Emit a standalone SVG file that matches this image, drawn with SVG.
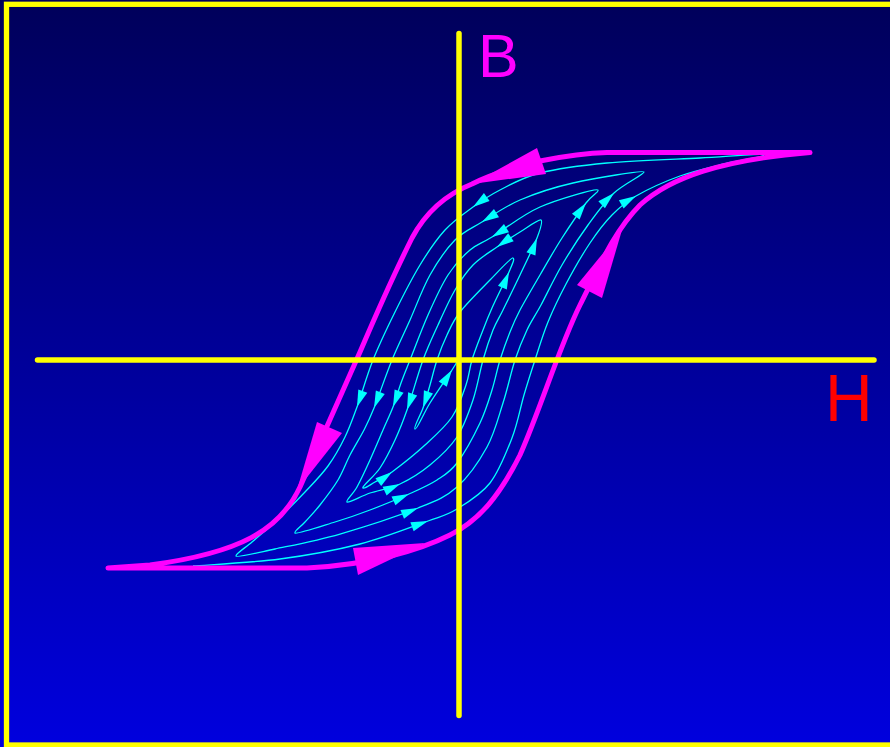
<svg xmlns="http://www.w3.org/2000/svg" xmlns:xlink="http://www.w3.org/1999/xlink" width="890" height="747" viewBox="0 0 890 747">
<defs>
<linearGradient id="bg" x1="0" y1="0" x2="0" y2="1">
<stop offset="0" stop-color="#00005a"/>
<stop offset="1" stop-color="#0000de"/>
</linearGradient>
<path id="ca" d="M0,0 L-17,-4.8 L-17,4.8 Z"/>
<style>
.axis{stroke:#ffff00;stroke-width:5.5;stroke-linecap:round;fill:none}
.major{stroke:#ff00ff;stroke-width:5;fill:none;stroke-linecap:round;stroke-linejoin:round}
.minor{stroke:#00ffff;stroke-width:1.3;fill:none}
.carrow{fill:#00ffff}
.marrow{fill:#ff00ff}
.lbl{font-family:"Liberation Sans",Arial,sans-serif}
</style>
</defs>
<rect x="0" y="0" width="890" height="747" fill="url(#bg)"/>
<rect id="frame" x="6.5" y="4.3" width="890" height="740.7" fill="none" stroke="#ffff00" stroke-width="5.3"/>

<g id="minor-loops">
<path class="minor" d="M193,566 C207.5,564.8 252.2,562.7 280,559 S335.3,550.3 360,544 S411.8,526.8 428,521 S446.7,515.3 457,509 S480.8,494.8 490,483 S506.3,452.7 512,438 S520.2,408 524,395 S531,372.2 535,360 S542.8,334.7 548,322 S559,297.2 566,284 S582.3,254.5 590,243 S604.3,222.8 612,215 S624.7,202.5 636,196 S664.7,181.5 680,176 S714,166.5 728,163 S764,157 764,155 S726.2,156.7 700,158 S633.7,160.5 607,163 S557.8,168.5 540,173 S511.2,184.3 500,190 S482.2,200.3 473,207 S453.8,220.3 445,230 S428.3,251.3 420,265 S402.8,296.2 395,312 S379.3,344.2 373,360 S361.7,394.2 357,407 S349.8,427.2 345,437 S334.7,456.8 328,466 S313.8,482.7 305,492 S283.8,513.7 275,522 S258.5,536.3 252,542 S235.2,554 236,556 S257.7,552.7 275,549 S316.2,540.8 340,534 S398.5,515.8 418,508 S445.5,497.2 457,487 S479.3,461 487,447 S498.3,417.5 503,403 S511,372.2 515,360 S522.7,339.2 527,330 S535.2,315.8 541,305 S554.2,278.3 562,265 S579.3,237 588,225 S604.7,201.8 614,193 S644.8,174 644,172 S593.7,178.3 573,183 S535.2,193.5 520,200 S492.8,215.3 482,222 S463.7,231.2 455,240 S437.5,261.7 430,275 S416.3,305.8 410,320 S398,345.3 392,360 S378.7,396.3 374,408 S368,422.2 364,430 S354.3,446.7 350,455 S343,471.7 338,480 S325.5,498 320,505 S309.2,517.3 305,522 S293.8,531.4 295,533 S322.5,525.8 335,522 S357.7,514.7 370,510 S397.8,499 409,494 S429,485.2 437,480 S449.8,472.5 457,463 S474.2,435.2 480,423 S488.7,400.5 492,390 S497,369.7 500,360 S506.7,340.3 510,332 S515,319.5 520,310 S533,287 540,275 S554.3,250 562,238 S580,211 586,203 S599.2,192 598,190 S557.7,199.2 540,207 S503.7,229.8 492,237 S477.3,243.7 470,250 S455,264.2 448,275 S434.3,300.8 428,315 S414.5,348.7 410,360 S403.8,375.2 401,383 S396,399.2 393,407 S386.8,421.2 383,430 S374.3,450.5 370,460 S360.8,480 357,487 S345.5,500.5 347,502 S361.2,496 370,493 S390,488.7 400,484 S420.5,472.8 430,465 S449.8,447.8 457,437 S468.7,412.8 473,400 S479.7,371.7 483,360 S489.7,338.3 493,330 S498.5,319.2 503,310 S514.3,287 520,275 S533.5,247.2 537,238 S543,221.2 541,220 S527.3,227.5 520,232 S504.8,241.5 497,247 S480,257.8 473,265 S460.8,280 455,290 S443.3,313.3 438,325 S428.2,345.8 423,360 S411.7,396.7 407,410 S399.5,430.3 395,440 S385.3,460 380,468 S361.4,486.8 363,488 S370.2,484.7 375,482 S383.7,478.2 392,472 S415,454.2 425,445 S445.2,427 452,417 S462.7,394.5 466,385 S469.2,369.2 472,360 S479.7,338.7 483,330 S487.7,317.7 492,308 S505.5,280.3 509,272 S515,258.6 513,258 S498.8,271 490,280 S467.2,302.8 460,312 S450.8,327 447,335 S439.8,351.7 437,360 S432.3,377 430,385 S425.5,400.7 423,408 S413,428 415,429 S423.8,412.8 430,403 S447.3,377.2 452,370 S457,361.7 458,360"/>
<g class="carrow">
<use xlink:href="#ca" transform="translate(428,521) rotate(-19.8)"/>
<use xlink:href="#ca" transform="translate(636,196) rotate(-29.8)"/>
<use xlink:href="#ca" transform="translate(473,207) rotate(144)"/>
<use xlink:href="#ca" transform="translate(357,407) rotate(110)"/>
<use xlink:href="#ca" transform="translate(418,508) rotate(-21.9)"/>
<use xlink:href="#ca" transform="translate(614,193) rotate(-43.4)"/>
<use xlink:href="#ca" transform="translate(482,222) rotate(148.4)"/>
<use xlink:href="#ca" transform="translate(374,408) rotate(111.8)"/>
<use xlink:href="#ca" transform="translate(409,494) rotate(-24.1)"/>
<use xlink:href="#ca" transform="translate(586,203) rotate(-53.1)"/>
<use xlink:href="#ca" transform="translate(492,237) rotate(148.4)"/>
<use xlink:href="#ca" transform="translate(393,407) rotate(111)"/>
<use xlink:href="#ca" transform="translate(400,484) rotate(-25)"/>
<use xlink:href="#ca" transform="translate(537,238) rotate(-69.1)"/>
<use xlink:href="#ca" transform="translate(497,247) rotate(144.9)"/>
<use xlink:href="#ca" transform="translate(407,410) rotate(109.3)"/>
<use xlink:href="#ca" transform="translate(392,472) rotate(-36.5)"/>
<use xlink:href="#ca" transform="translate(509,272) rotate(-67.2)"/>
<use xlink:href="#ca" transform="translate(423,408) rotate(108.8)"/>
<use xlink:href="#ca" transform="translate(452,370) rotate(-56.9)"/>
</g>
</g>

<g id="major-loop">
<path class="major" d="M810,152.5 L607,152.5 C585,153 560,157 540,161 C515,167 490,175 472,184 C452,192 428,208 412,238 C400,262 378,310 360,352 L300,487 C280,530 240,553 150,565 L108,568 L307,568 C370,565 420,550 450,535 C480,520 500,495 520,455 C540,410 560,345 580,305 C600,265 615,230 640,205 C670,178 720,160 810,152.5 Z"/>
<g class="marrow">
<polygon points="472,184 537,148 546,174"/>
<polygon points="297,490 317,422 342,433"/>
<polygon points="425,543 353,548 358,575"/>
<polygon points="622,230 577,285 602,298"/>
</g>
</g>

<g id="axes">
<line class="axis" x1="459" y1="33.5" x2="459" y2="715.5"/>
<line class="axis" x1="37.5" y1="360" x2="874" y2="360"/>
</g>

<g id="labels">
<text class="lbl" x="478" y="77" font-size="61" fill="#ff00ff">B</text>
<text class="lbl" x="825" y="421" font-size="66" fill="#ff0000">H</text>
</g>
</svg>
